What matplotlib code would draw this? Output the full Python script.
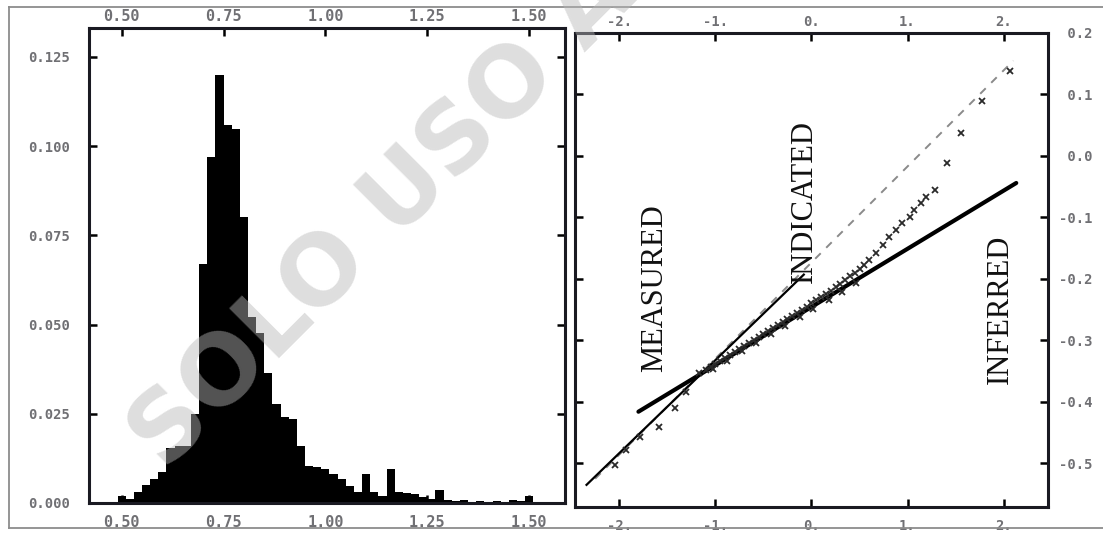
import matplotlib
matplotlib.use("Agg")
import matplotlib.pyplot as plt
from matplotlib.lines import Line2D

# grade histogram (relative frequency per 0.02 bin)
bin_left = [0.47, 0.49, 0.51, 0.53, 0.55, 0.57, 0.59, 0.61, 0.63, 0.65,
            0.67, 0.69, 0.71, 0.73, 0.75, 0.77, 0.79, 0.81, 0.83, 0.85,
            0.87, 0.89, 0.91, 0.93, 0.95, 0.97, 0.99, 1.01, 1.03, 1.05,
            1.07, 1.09, 1.11, 1.13, 1.15, 1.17, 1.19, 1.21, 1.23, 1.25,
            1.27, 1.29, 1.31, 1.33, 1.35, 1.37, 1.39, 1.41, 1.43, 1.45,
            1.47, 1.49, 1.51]
freq = [0.0000, 0.0020, 0.0012, 0.0030, 0.0050, 0.0067, 0.0088, 0.0155, 0.0160, 0.0160,
        0.0250, 0.0670, 0.0970, 0.1200, 0.1060, 0.1047, 0.0800, 0.0520, 0.0476, 0.0365,
        0.0276, 0.0240, 0.0235, 0.0160, 0.0103, 0.0100, 0.0095, 0.0080, 0.0067, 0.0048,
        0.0030, 0.0080, 0.0030, 0.0020, 0.0095, 0.0030, 0.0028, 0.0025, 0.0016, 0.0010,
        0.0036, 0.0008, 0.0005, 0.0008, 0.0003, 0.0006, 0.0003, 0.0005, 0.0004, 0.0008,
        0.0005, 0.0020, 0.0000]
hist_xticks = [0.50, 0.75, 1.00, 1.25, 1.50]
hist_yticks = [0.000, 0.025, 0.050, 0.075, 0.100, 0.125]

# probability plot: normal score vs log grade
qq_x = [-2.04, -1.93, -1.78, -1.59, -1.42, -1.31, -1.17,
        -1.10, -1.05, -1.00, -0.95, -0.90, -0.85, -0.80, -0.75, -0.70, -0.65,
        -0.60, -0.55, -0.50, -0.45, -0.40, -0.35, -0.30, -0.25, -0.20, -0.15,
        -0.10, -0.05, 0.00, 0.05, 0.10, 0.15, 0.20, 0.25, 0.30, 0.35,
        0.40, 0.45, 0.50, 0.55,
        -1.02, -0.88, -0.72, -0.58, -0.42, -0.28, -0.12, 0.02, 0.18, 0.32, 0.46,
        0.60, 0.67, 0.74, 0.81, 0.88, 0.94, 1.02, 1.07, 1.14, 1.19, 1.28,
        1.41, 1.56, 1.77, 2.06]
qq_y = [-0.502, -0.478, -0.457, -0.441, -0.410, -0.384, -0.353,
        -0.348, -0.343, -0.338, -0.334, -0.329, -0.324, -0.319, -0.314, -0.309, -0.305,
        -0.300, -0.295, -0.290, -0.285, -0.280, -0.275, -0.270, -0.265, -0.260, -0.255,
        -0.250, -0.245, -0.240, -0.235, -0.230, -0.224, -0.219, -0.213, -0.208, -0.202,
        -0.196, -0.190, -0.184, -0.177,
        -0.346, -0.333, -0.318, -0.305, -0.290, -0.277, -0.262, -0.249, -0.234, -0.221, -0.207,
        -0.169, -0.158, -0.145, -0.132, -0.120, -0.109, -0.099, -0.088, -0.076, -0.067, -0.055,
        -0.011, 0.037, 0.089, 0.138]
fit_x = [-2.25, 2.10]
fit_y = [-0.525, 0.155]
measured_x = [-2.34, -0.08]
measured_y = [-0.535, -0.193]
inferred_x = [-1.80, 2.13]
inferred_y = [-0.416, -0.044]
qq_xticks = [-2, -1, 0, 1, 2]
qq_yticks = [0.2, 0.1, 0.0, -0.1, -0.2, -0.3, -0.4, -0.5]

plt.rcParams['font.family'] = ['DejaVu Sans Mono']
lab = dict(color='#707074', fontweight='bold')

fig = plt.figure(figsize=(11.03, 5.33), dpi=100)
fig.patch.set_facecolor('white')

# left: histogram
ax1 = fig.add_axes([0.0807, 0.0563, 0.4316, 0.8912])
ax1.bar(bin_left, freq, width=0.02, align='edge', color='black', linewidth=0)
ax1.set_xlim(0.42, 1.588)
ax1.set_ylim(0.0, 0.1331)
ax1.set_xticks(hist_xticks)
ax1.set_xticklabels(['%.2f' % v for v in hist_xticks], fontsize=11, **lab)
ax1.set_yticks(hist_yticks)
ax1.set_yticklabels(['%.3f' % v for v in hist_yticks], fontsize=10, **lab)
ax1.tick_params(direction='in', length=6, width=1.8, top=True, right=True,
                labeltop=False)
ax1.tick_params(axis='y', pad=14)
ax1.tick_params(axis='x', pad=9)
top1 = ax1.secondary_xaxis('top')
top1.set_xticks(hist_xticks)
top1.set_xticklabels(['%.2f' % v for v in hist_xticks], fontsize=11, **lab)
top1.tick_params(length=0, pad=3)
top1.spines['top'].set_visible(False)

# right: probability plot
ax2 = fig.add_axes([0.5213, 0.0488, 0.4288, 0.8893])
ax2.plot(fit_x, fit_y, color='#8a8a8a', lw=1.4, dashes=(4, 4))
ax2.plot(measured_x, measured_y, color='black', lw=1.6)
ax2.plot(inferred_x, inferred_y, color='black', lw=3.0, solid_capstyle='round')
ax2.plot(qq_x, qq_y, linestyle='none', marker='x', ms=4.5, mew=1.3, color='#2a2a2a')
ax2.set_xlim(-2.46, 2.46)
ax2.set_ylim(-0.571, 0.2)
ax2.set_xticks(qq_xticks)
ax2.set_xticklabels(['%d.' % v for v in qq_xticks], fontsize=10, **lab)
ax2.set_yticks(qq_yticks)
ax2.set_yticklabels(['%4.1f' % v if v < 0 else ' %.1f' % v for v in qq_yticks],
                    fontsize=10, **lab)
ax2.yaxis.tick_right()
ax2.tick_params(direction='in', length=6, width=1.8, top=True, left=True,
                right=True, labeltop=False)
ax2.tick_params(axis='y', pad=8)
ax2.tick_params(axis='x', pad=9)
top2 = ax2.secondary_xaxis('top')
top2.set_xticks(qq_xticks)
top2.set_xticklabels(['%d.' % v for v in qq_xticks], fontsize=10, **lab)
top2.tick_params(length=0, pad=3)
top2.spines['top'].set_visible(False)

serif = dict(family='Liberation Serif', fontsize=22, rotation=90,
             ha='center', va='center', transform=ax2.transAxes, color='#111111')
ax2.text(0.169, 0.462, 'MEASURED', **serif)
ax2.text(0.486, 0.645, 'INDICATED', **serif)
ax2.text(0.899, 0.416, 'INFERRED', **serif)

for ax in (ax1, ax2):
    for s in ax.spines.values():
        s.set_linewidth(2.2)
        s.set_color('#1a1a22')

# outer frame
frame = dict(color='#8c8c8c', lw=1.3, transform=fig.transFigure)
fig.add_artist(Line2D([9 / 1103, 1], [1 - 7 / 533, 1 - 7 / 533], **frame))
fig.add_artist(Line2D([9 / 1103, 9 / 1103], [1 - 7 / 533, 1 - 528 / 533], **frame))
fig.add_artist(Line2D([9 / 1103, 1], [1 - 528 / 533, 1 - 528 / 533], **frame))

# watermark
fig.text(165 / 1103, 1 - 472 / 533, 'SOLO USO ACADÉMICO', family='DejaVu Sans',
         fontweight='bold', fontsize=70, rotation=45, rotation_mode='anchor',
         ha='left', va='baseline', color=(0.72, 0.72, 0.72), alpha=0.46,
         zorder=10)

fig.savefig('out.png', dpi=100)
